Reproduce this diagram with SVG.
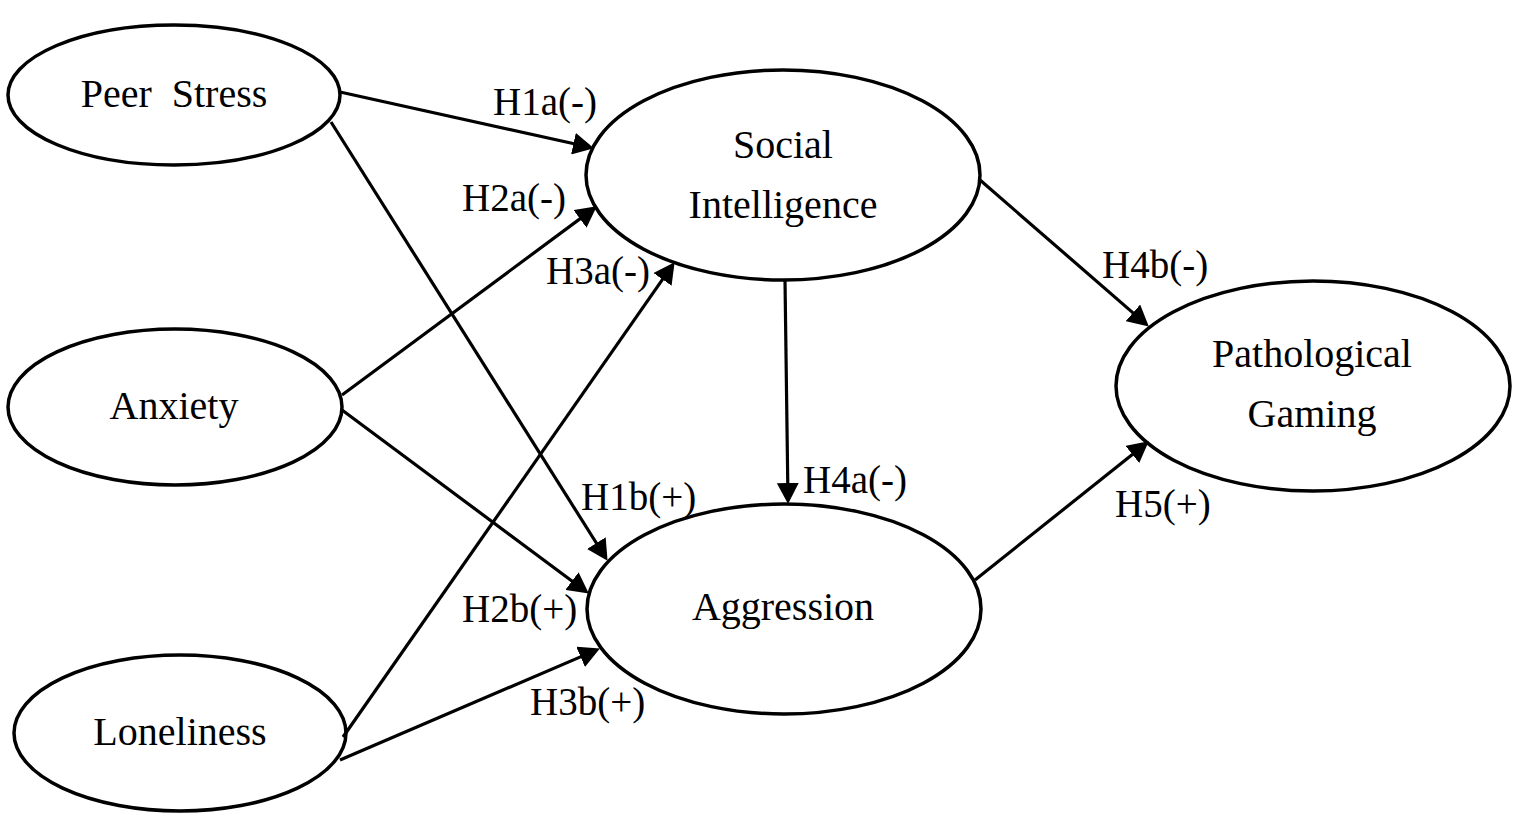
<svg xmlns="http://www.w3.org/2000/svg" width="1518" height="827" viewBox="0 0 1518 827">
<style>
.node ellipse{fill:#fff;stroke:#000;stroke-width:3.5}
.node text{font-family:"Liberation Serif","Times New Roman",serif;font-size:40px;fill:#000;text-anchor:middle;white-space:pre}
.edges line{stroke:#000;stroke-width:3.2;marker-end:url(#arr)}
.lbl text{font-family:"Liberation Serif","Times New Roman",serif;font-size:39px;fill:#000}
</style>
<defs>
<marker id="arr" markerUnits="userSpaceOnUse" markerWidth="22" markerHeight="22" refX="10" refY="11" orient="auto" viewBox="0 0 22 22">
<path d="M0,0 L21,11 L0,22 z" fill="#000"/>
</marker>
</defs>
<rect width="1518" height="827" fill="#fff"/>
<g id="peer-stress" class="node"><ellipse cx="174" cy="95" rx="166" ry="70"/><text x="174" y="107" xml:space="preserve">Peer  Stress</text></g>
<g id="anxiety" class="node"><ellipse cx="175" cy="407" rx="167" ry="78"/><text x="174" y="419">Anxiety</text></g>
<g id="loneliness" class="node"><ellipse cx="180" cy="733" rx="166" ry="78"/><text x="180" y="745">Loneliness</text></g>
<g id="social-intelligence" class="node"><ellipse cx="783" cy="175" rx="197" ry="105"/><text x="783" y="158">Social</text><text x="783" y="218">Intelligence</text></g>
<g id="aggression" class="node"><ellipse cx="784" cy="609" rx="197" ry="105"/><text x="783" y="620">Aggression</text></g>
<g id="pathological-gaming" class="node"><ellipse cx="1313" cy="386" rx="197" ry="105"/><text x="1312" y="367">Pathological</text><text x="1312" y="427">Gaming</text></g>
<g id="connectors" class="edges">
<line x1="340" y1="92" x2="583.2" y2="145.8"/>
<line x1="331" y1="122" x2="601.7" y2="551.5"/>
<line x1="342" y1="395" x2="588" y2="212.9"/>
<line x1="342" y1="410" x2="580" y2="587"/>
<line x1="343" y1="737" x2="668.3" y2="271.2"/>
<line x1="340" y1="760" x2="589.8" y2="652.9"/>
<line x1="785" y1="280" x2="787.9" y2="493"/>
<line x1="980" y1="180" x2="1140.5" y2="319.4"/>
<line x1="975" y1="580" x2="1140.2" y2="448.2"/>
</g>
<g id="labels" class="lbl">
<text x="493" y="115">H1a(-)</text>
<text x="462" y="211">H2a(-)</text>
<text x="546" y="284">H3a(-)</text>
<text x="581" y="510">H1b(+)</text>
<text x="803" y="493">H4a(-)</text>
<text x="1102" y="278">H4b(-)</text>
<text x="462" y="622">H2b(+)</text>
<text x="530" y="715">H3b(+)</text>
<text x="1115" y="517">H5(+)</text>
</g>
</svg>
